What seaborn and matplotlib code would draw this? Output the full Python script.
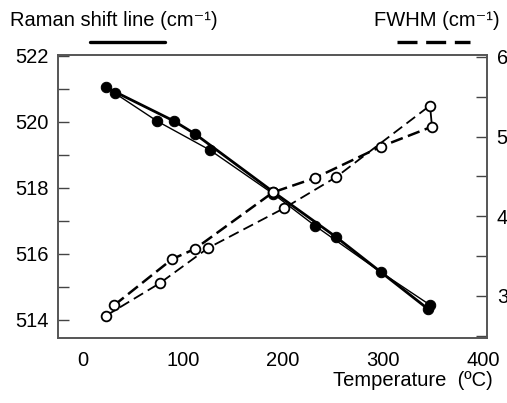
import numpy as np
import pandas as pd
import matplotlib
matplotlib.use("Agg")
import matplotlib.pyplot as plt
from matplotlib.lines import Line2D
from matplotlib.ticker import MultipleLocator
import seaborn as sns

# Raman shift (left axis), two runs
raman_thick_t = [23, 91, 112, 190, 253, 345]
raman_thick_v = [521.04, 520.02, 519.63, 517.88, 516.51, 514.33]
raman_thin_t = [32, 74, 127, 190, 232, 298, 347]
raman_thin_v = [520.86, 520.02, 519.14, 517.82, 516.85, 515.44, 514.45]

# FWHM (right axis), two runs
fwhm_a_t = [31, 89, 112, 190, 232, 298, 349]
fwhm_a_v = [2.88, 3.46, 3.59, 4.30, 4.48, 4.875, 5.125]
fwhm_b_t = [23, 77, 125, 201, 253, 347]
fwhm_b_v = [2.75, 3.16, 3.60, 4.10, 4.49, 5.39]

xticks = [0, 100, 200, 300, 400]
left_ticks = [514, 516, 518, 520, 522]
right_ticks = [3, 4, 5, 6]

sns.set_style("white")
plt.rcParams['font.family'] = ['Liberation Sans', 'DejaVu Sans']
plt.rcParams['text.color'] = 'black'
plt.rcParams['xtick.color'] = 'black'
plt.rcParams['ytick.color'] = 'black'

fig = plt.figure(figsize=(5.07, 4.03), dpi=100)
ax = fig.add_axes([58 / 507, 1 - 338 / 403, (487 - 58) / 507, (338 - 55) / 403])
ax2 = ax.twinx()

sns.lineplot(x=raman_thick_t, y=raman_thick_v, sort=False, estimator=None, ax=ax,
             color="black", lw=2.0, marker="o", ms=7.5, mfc="black", mec="black")
sns.lineplot(x=raman_thin_t, y=raman_thin_v, sort=False, estimator=None, ax=ax,
             color="black", lw=1.0, marker="o", ms=7.5, mfc="black", mec="black")

sns.lineplot(x=fwhm_a_t, y=fwhm_a_v, sort=False, estimator=None, ax=ax2,
             color="black", lw=1.8, ls=(0, (5, 2.2)), marker="o", ms=7, mfc="white",
             mec="black", mew=1.3)
sns.lineplot(x=fwhm_b_t, y=fwhm_b_v, sort=False, estimator=None, ax=ax2,
             color="black", lw=1.3, ls=(0, (6, 3)), marker="o", ms=7, mfc="white",
             mec="black", mew=1.3)
# short link between the last two FWHM points
ax2.plot([fwhm_a_t[-1], fwhm_b_t[-1]], [fwhm_a_v[-1], fwhm_b_v[-1]],
         color="black", lw=1.3, zorder=1)

ax.set_xlim(-25, 404)
ax.set_ylim(513.45, 522.02)
ax2.set_ylim(2.47, 6.025)

ax.set_xticks(xticks)
ax.xaxis.set_minor_locator(MultipleLocator(50))
ax.set_yticks(left_ticks)
ax.yaxis.set_minor_locator(MultipleLocator(1))
ax2.set_yticks(right_ticks)
ax2.yaxis.set_minor_locator(MultipleLocator(0.5))

for a in (ax, ax2):
    a.tick_params(which="both", direction="in", length=8, width=1, color="#444444",
                  labelsize=14.5, labelcolor="black", pad=7)
    for s in a.spines.values():
        s.set_color("#555555")
        s.set_linewidth(1.2)
ax.tick_params(axis="x", which="both", length=6, pad=9)
ax.set_xlabel("")
ax.set_ylabel("")
ax2.set_ylabel("")

fig.text(10 / 507, 1 - 20 / 403, "Raman shift line (cm⁻¹)", fontsize=14.5,
         va="center", ha="left")
fig.text(374 / 507, 1 - 20 / 403, "FWHM (cm⁻¹)", fontsize=14.5,
         va="center", ha="left")
fig.text(493 / 507, 1 - 380 / 403, "Temperature  (ºC)", fontsize=14.5,
         va="center", ha="right")

fig.add_artist(Line2D([90 / 507, 165 / 507], [1 - 42 / 403] * 2, color="black", lw=2.4,
                      transform=fig.transFigure))
fig.add_artist(Line2D([397 / 507, 470 / 507], [1 - 42 / 403] * 2, color="black", lw=2.4,
                      ls=(0, (6, 2.6)), transform=fig.transFigure))

fig.savefig("out.png", dpi=100)
